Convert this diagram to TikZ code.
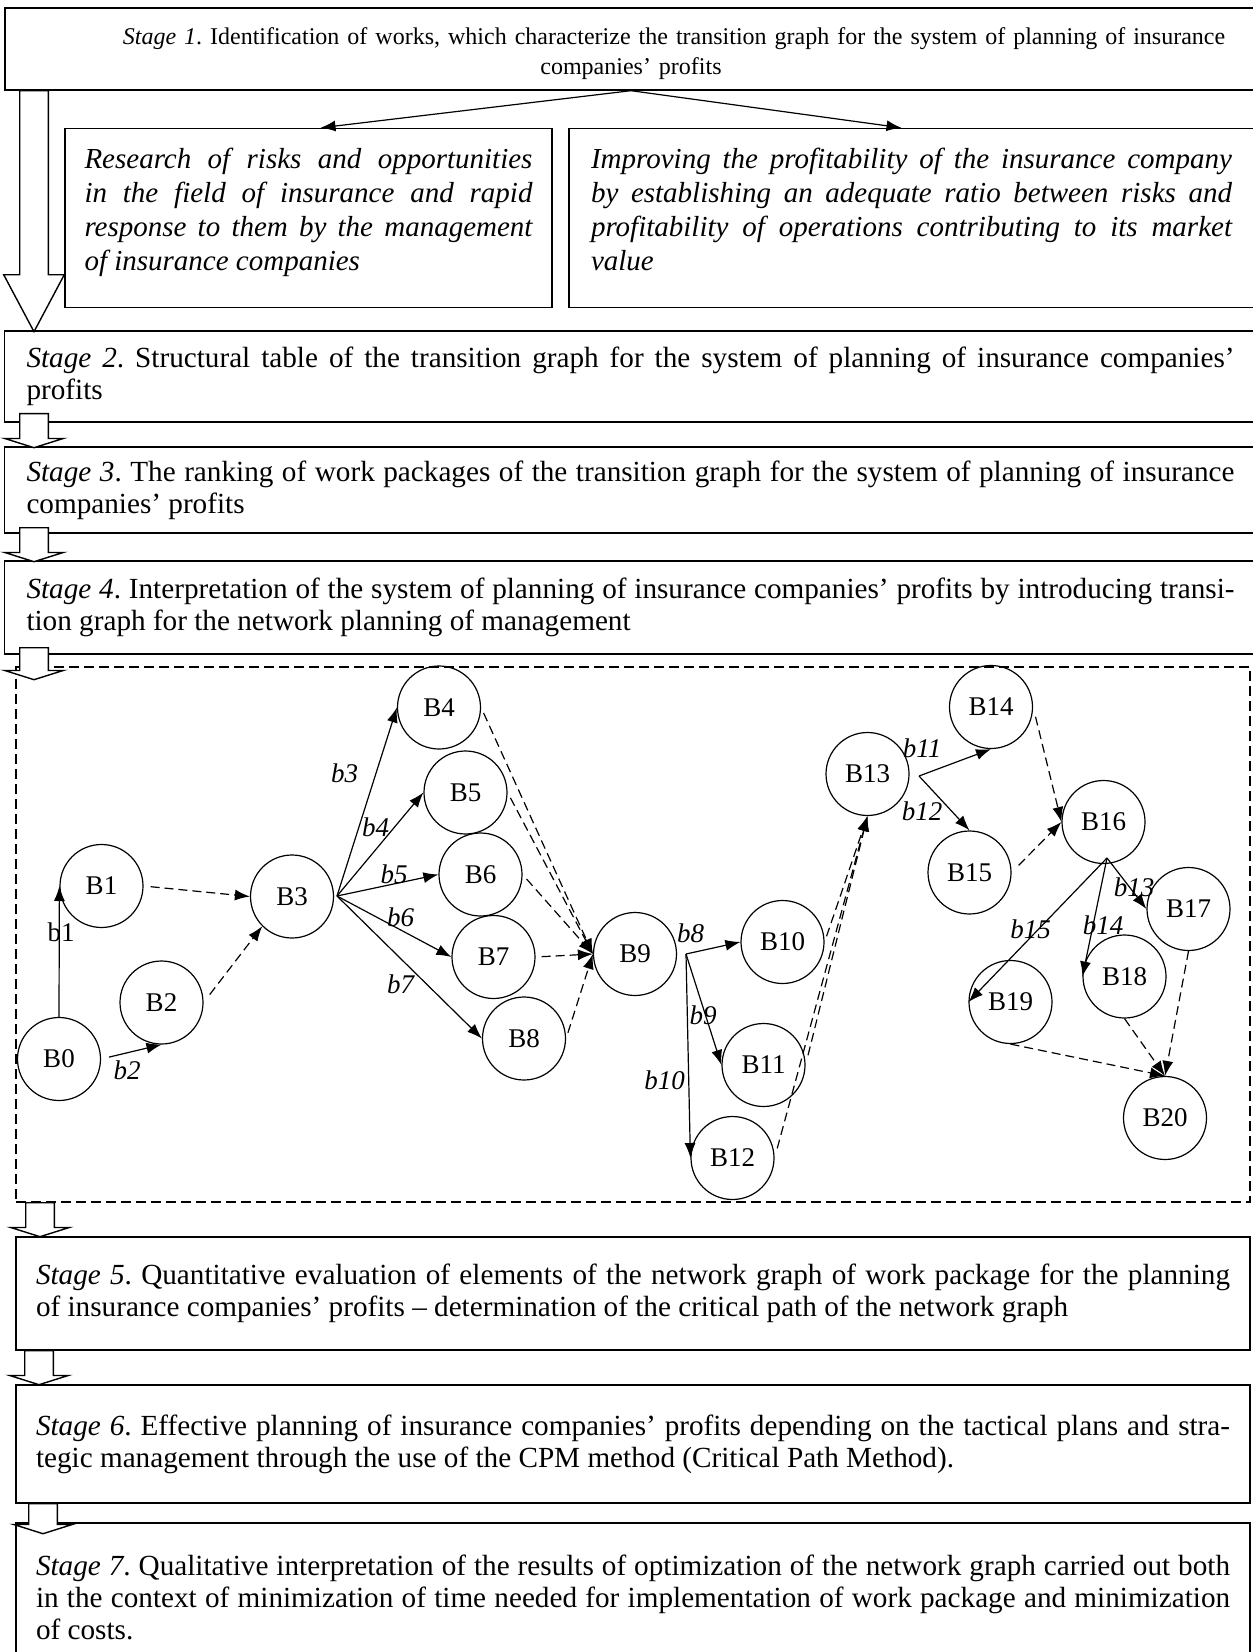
\documentclass[tikz,border=0pt]{standalone}
\usepackage{fontspec}
\setmainfont{Liberation Serif}
\usepackage{tikz}
\usetikzlibrary{shapes,arrows.meta}
\frenchspacing
\newcommand{\headfont}{\fontsize{12}{15}\selectfont}
\newcommand{\stagefont}{\fontsize{14.6}{16}\selectfont}
\newcommand{\subfont}{\fontsize{14.5}{17}\selectfont\itshape}
\newcommand{\eventfont}{\fontsize{13.5}{16}\selectfont}
\newcommand{\workfont}{\fontsize{13.5}{16}\selectfont\itshape}
\tikzstyle{stage}=[rectangle, draw, line width=0.7pt, text width=604pt, minimum width=626pt, align=justify, inner sep=0pt, font=\stagefont]
\tikzstyle{stagelow}=[stage, text width=597pt, minimum width=617pt]
\tikzstyle{subbox}=[rectangle, draw, line width=0.7pt, align=justify, inner sep=0pt, minimum height=89.5pt, text height=10pt, text depth=59.6pt, font=\subfont]
\tikzstyle{netbox}=[rectangle, draw, line width=0.6pt, dash pattern=on 5pt off 2.5pt, inner sep=0pt]
\tikzstyle{event}=[circle, draw, line width=0.6pt, minimum size=41.5pt, inner sep=0pt, font=\eventfont]
\tikzstyle{work}=[line width=0.6pt, -{Latex[length=7.5pt,width=5.5pt]}]
\tikzstyle{dummy}=[work, dash pattern=on 4.5pt off 2.5pt]
\tikzstyle{wlabel}=[inner sep=0pt, font=\workfont]
\tikzstyle{flowarrow}=[single arrow, draw, fill=white, line width=0.7pt, rotate=-90, anchor=tail, inner xsep=0pt, inner ysep=6.8pt, single arrow head extend=7.5pt, single arrow tip angle=145]
\tikzstyle{bigarrow}=[flowarrow, single arrow head extend=8pt, single arrow tip angle=56]

\begin{document}
\begin{tikzpicture}[x=1pt,y=-1pt]
\useasboundingbox (0,0) rectangle (626,826);

%Stages
\node[stage, align=center, font=\headfont, minimum height=41pt, text height=13pt, text depth=17.5pt] (st1) at (315.5,24.5){\hspace*{43pt}\textit{Stage 1}. Identification of works, which characterize the transition graph for the system of planning of insurance\\ companies' profits};
\node[subbox, text width=224pt, minimum width=243.5pt] (subL) at (154.25,109){Research of risks and opportunities \linebreak in the field of insurance and rapid \linebreak response to them by the management \linebreak of insurance companies};
\node[subbox, text width=320.5pt, minimum width=342.5pt] (subR) at (455.75,109){Improving the profitability of the insurance company \linebreak by establishing an adequate ratio between risks and \linebreak profitability of operations contributing to its market \linebreak value};
\node[stage, minimum height=45.5pt] (st2) at (315.25,188.25){\textit{Stage 2}. Structural table of the transition graph for the system of planning of insurance companies' \linebreak profits};
\node[stage, minimum height=43pt] (st3) at (315.25,245){\textit{Stage 3}. The ranking of work packages of the transition graph for the system of planning of insurance \linebreak companies' profits};
\node[stage, minimum height=46.5pt] (st4) at (315.25,303.75){\textit{Stage 4}. Interpretation of the system of planning of insurance companies' profits by introducing transi-\linebreak tion graph for the network planning of management};
\node[netbox, minimum width=617pt, minimum height=267.5pt] (net) at (316.5,467.25){};
\node[stagelow, minimum height=56.5pt] (st5) at (316.5,646.75){\textit{Stage 5}. Quantitative evaluation of elements of the network graph of work package for the planning \linebreak of insurance companies' profits -- determination of the critical path of the network graph};
\node[stagelow, minimum height=59pt] (st6) at (316.5,722){\textit{Stage 6}. Effective planning of insurance companies' profits depending on the tactical plans and stra-\linebreak tegic management through the use of the CPM method (Critical Path Method).};
\node[stagelow, minimum height=74pt] (st7) at (316.5,798.5){\textit{Stage 7}. Qualitative interpretation of the results of optimization of the network graph carried out both \linebreak in the context of minimization of time needed for implementation of work package and minimization \linebreak of costs.};

%Block arrows
\node[bigarrow, minimum height=120.5pt] (a12) at (17,45){};
\node[flowarrow, minimum height=17pt] (a23) at (17,206.5){};
\node[flowarrow, minimum height=17pt] (a34) at (17,263.5){};
\node[flowarrow, minimum height=16pt] (a4n) at (17,323.5){};
\node[flowarrow, minimum height=17pt] (an5) at (20,601){};
\node[flowarrow, minimum height=17pt] (a56) at (19.5,675){};
\node[flowarrow, minimum height=15pt] (a67) at (21.5,751.5){};
\draw[work] (st1.south) -- ([xshift=6pt]subL.north);
\draw[work] (st1.south) -- ([xshift=-5pt]subR.north);

%Events
\node[event] (B0) at (29.5,529.5){B0};
\node[event] (B1) at (50.75,443){B1};
\node[event] (B2) at (80.75,501.25){B2};
\node[event] (B3) at (146,448.25){B3};
\node[event] (B4) at (219.5,353.75){B4};
\node[event] (B5) at (232.75,396.25){B5};
\node[event] (B6) at (240.25,437.25){B6};
\node[event] (B7) at (246.75,478.5){B7};
\node[event] (B8) at (262,519.25){B8};
\node[event] (B9) at (317.5,477){B9};
\node[event] (B10) at (391.25,471){B10};
\node[event] (B11) at (381.75,532.5){B11};
\node[event] (B12) at (366.25,579){B12};
\node[event] (B13) at (433.75,387){B13};
\node[event] (B14) at (495.5,353.5){B14};
\node[event] (B15) at (484.75,436.25){B15};
\node[event] (B16) at (551.75,411){B16};
\node[event] (B17) at (594.25,454.5){B17};
\node[event] (B18) at (562.25,488.25){B18};
\node[event] (B19) at (505.25,501){B19};
\node[event] (B20) at (582.5,559){B20};
\coordinate (f3) at (168.5,448);
\coordinate (f9) at (343,477);
\coordinate (f13) at (459.5,388);
\coordinate (f16) at (553.5,429);

%Works
\draw[work] (B0.north) -- (B1.west);
\draw[work, shorten <=4pt] (B0.east) -- (B2.south);
\draw[work] (f3) -- (B4.west);
\draw[work] (f3) -- (B5.west);
\draw[work] (f3) -- (B6.west);
\draw[work] (f3) -- (B7.west);
\draw[work] (f3) -- (B8.west);
\draw[work] (f9) -- (B10.west);
\draw[work] (f9) -- (B11.west);
\draw[work] (f9) -- (B12.west);
\draw[work] (f13) -- (B14.south);
\draw[work] (f13) -- (B15.north);
\draw[work] (f16) -- (B17.west);
\draw[work] (f16) -- (B18.west);
\draw[work] (f16) -- (B19.west);

%Dummy works
\draw[dummy, shorten <=3.5pt] (B1.east) -- (B3.west);
\draw[dummy, shorten <=5pt] (B2.east) -- (B3.south west);
\draw[dummy, shorten <=3pt] (B4.east) -- (B9.west);
\draw[dummy, shorten <=3pt] (B5.east) -- (B9.west);
\draw[dummy, shorten <=3pt] (B6.east) -- (B9.west);
\draw[dummy, shorten <=3pt] (B7.east) -- (B9.west);
\draw[dummy, shorten <=3pt] (B8.east) -- (B9.west);
\draw[dummy, shorten <=3pt] (B10.east) -- (B13.south);
\draw[dummy, shorten <=5pt] (B11.east) -- (B13.south);
\draw[dummy, shorten <=5pt] (B12.east) -- (B13.south);
\draw[dummy, shorten <=5pt] (B14.east) -- (B16.west);
\draw[dummy, shorten <=5pt] (B15.east) -- (B16.west);
\draw[dummy] (B17.south) -- (B20.north);
\draw[dummy] (B18.south) -- (B20.north);
\draw[dummy] (B19.south) -- (B20.north);

%Labels
\node[wlabel] (l1) at (30.5,466){\upshape b1};
\node[wlabel] (l2) at (63.5,535){b2};
\node[wlabel] (l3) at (172.25,386.5){b3};
\node[wlabel] (l4) at (187.75,413.5){b4};
\node[wlabel] (l5) at (197,437){b5};
\node[wlabel] (l6) at (200.25,458.75){b6};
\node[wlabel] (l7) at (200.25,492.25){b7};
\node[wlabel] (l8) at (345.25,466.75){b8};
\node[wlabel] (l9) at (351.5,507.75){b9};
\node[wlabel] (l10) at (332.25,540){b10};
\node[wlabel] (l11) at (461,374){b11};
\node[wlabel] (l12) at (461,405.5){b12};
\node[wlabel] (l13) at (567,443.75){b13};
\node[wlabel] (l14) at (551.5,462.5){b14};
\node[wlabel] (l15) at (515.25,464.5){b15};
\end{tikzpicture}
\end{document}
